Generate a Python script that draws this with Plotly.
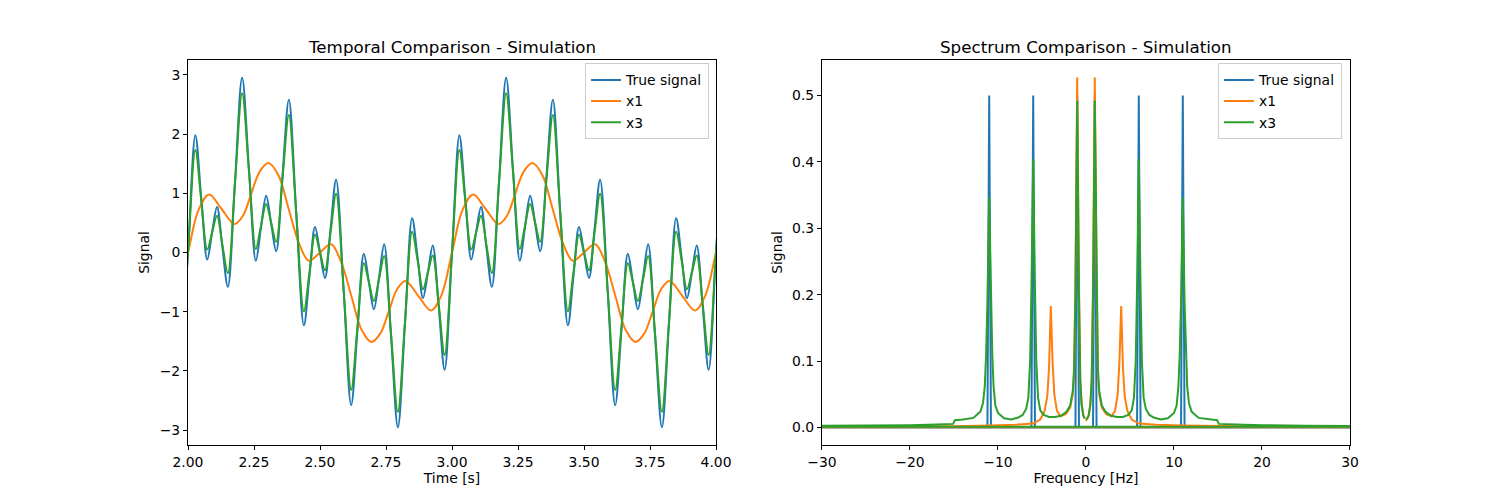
import plotly.graph_objects as go

# ---- time domain ----
t_true = [1.972, 2.000, 2.028, 2.050, 2.073, 2.091, 2.110, 2.130, 2.151, 2.178, 2.205, 2.231,
          2.257, 2.276, 2.296, 2.315, 2.334, 2.358, 2.382, 2.410, 2.439, 2.460, 2.481, 2.500,
          2.519, 2.540, 2.561, 2.590, 2.618, 2.642, 2.666, 2.685, 2.704, 2.724, 2.743, 2.769,
          2.795, 2.822, 2.849, 2.870, 2.890, 2.909, 2.927, 2.950, 2.972, 3.000,
          3.028, 3.050, 3.073, 3.091, 3.110, 3.130, 3.151, 3.178, 3.205, 3.231,
          3.257, 3.276, 3.296, 3.315, 3.334, 3.358, 3.382, 3.410, 3.439, 3.460, 3.481, 3.500,
          3.519, 3.540, 3.561, 3.590, 3.618, 3.642, 3.666, 3.685, 3.704, 3.724, 3.743, 3.769,
          3.795, 3.822, 3.849, 3.870, 3.890, 3.909, 3.927, 3.950, 3.972, 4.000, 4.028]
y_true = [-1.98, 0.00, 1.98, 0.93, -0.12, 0.33, 0.77, 0.10, -0.58, 1.19, 2.95, 1.40,
          -0.14, 0.41, 0.96, 0.49, 0.02, 1.30, 2.58, 0.67, -1.23, -0.40, 0.43, 0.00,
          -0.43, 0.40, 1.23, -0.67, -2.58, -1.30, -0.02, -0.49, -0.96, -0.41, 0.14, -1.40,
          -2.95, -1.19, 0.58, -0.10, -0.77, -0.33, 0.12, -0.93, -1.98, 0.00,
          1.98, 0.93, -0.12, 0.33, 0.77, 0.10, -0.58, 1.19, 2.95, 1.40,
          -0.14, 0.41, 0.96, 0.49, 0.02, 1.30, 2.58, 0.67, -1.23, -0.40, 0.43, 0.00,
          -0.43, 0.40, 1.23, -0.67, -2.58, -1.30, -0.02, -0.49, -0.96, -0.41, 0.14, -1.40,
          -2.95, -1.19, 0.58, -0.10, -0.77, -0.33, 0.12, -0.93, -1.98, 0.00, 1.98]

t_x1 = [1.960, 2.000, 2.040, 2.080, 2.128, 2.176, 2.208, 2.240, 2.272, 2.305, 2.343, 2.381,
        2.420, 2.458, 2.500, 2.542, 2.580, 2.619, 2.657, 2.695, 2.728, 2.760, 2.792, 2.824,
        2.872, 2.920, 2.960, 3.000,
        3.040, 3.080, 3.128, 3.176, 3.208, 3.240, 3.272, 3.305, 3.343, 3.381,
        3.420, 3.458, 3.500, 3.542, 3.580, 3.619, 3.657, 3.695, 3.728, 3.760, 3.792, 3.824,
        3.872, 3.920, 3.960, 4.000, 4.040]
y_x1 = [-0.72, 0.00, 0.72, 0.98, 0.73, 0.48, 0.62, 1.00, 1.37, 1.51, 1.30, 0.74,
        0.16, -0.14, 0.00, 0.14, -0.16, -0.74, -1.30, -1.51, -1.37, -1.00, -0.62, -0.48,
        -0.73, -0.98, -0.72, 0.00,
        0.72, 0.98, 0.73, 0.48, 0.62, 1.00, 1.37, 1.51, 1.30, 0.74,
        0.16, -0.14, 0.00, 0.14, -0.16, -0.74, -1.30, -1.51, -1.37, -1.00, -0.62, -0.48,
        -0.73, -0.98, -0.72, 0.00, 0.72]

t_x3 = t_true
y_x3 = [-1.73, 0.00, 1.73, 0.89, 0.05, 0.33, 0.62, 0.14, -0.35, 1.17, 2.69, 1.37,
        0.06, 0.44, 0.82, 0.50, 0.18, 1.25, 2.32, 0.66, -0.99, -0.34, 0.30, 0.00,
        -0.30, 0.34, 0.99, -0.66, -2.32, -1.25, -0.18, -0.50, -0.82, -0.44, -0.06, -1.37,
        -2.69, -1.17, 0.35, -0.14, -0.62, -0.33, -0.05, -0.89, -1.73, 0.00,
        1.73, 0.89, 0.05, 0.33, 0.62, 0.14, -0.35, 1.17, 2.69, 1.37,
        0.06, 0.44, 0.82, 0.50, 0.18, 1.25, 2.32, 0.66, -0.99, -0.34, 0.30, 0.00,
        -0.30, 0.34, 0.99, -0.66, -2.32, -1.25, -0.18, -0.50, -0.82, -0.44, -0.06, -1.37,
        -2.69, -1.17, 0.35, -0.14, -0.62, -0.33, -0.05, -0.89, -1.73, 0.00, 1.73]

# ---- spectrum (fft order: positive freqs, then negative) ----
f_true = [0.0, 0.8, 1.0, 1.2, 5.8, 6.0, 6.2, 10.8, 11.0, 11.2, 50.0,
          -50.0, -11.2, -11.0, -10.8, -6.2, -6.0, -5.8, -1.2, -1.0, -0.8, -0.2]
s_true = [0.0, 0.0, 0.5, 0.0, 0.0, 0.5, 0.0, 0.0, 0.5, 0.0, 0.0,
          0.0, 0.0, 0.5, 0.0, 0.0, 0.5, 0.0, 0.0, 0.5, 0.0, 0.0]

f_x1 = [0.0, 0.15, 0.3, 0.5, 0.65, 0.8, 1.0, 1.2, 1.35, 1.5, 1.8, 2.3, 2.9, 3.3, 3.6, 3.8, 4.0,
        4.2, 4.4, 4.7, 5.2, 6.0, 8.0, 11.0, 15.0, 20.0, 30.0, 50.0,
        -50.0, -30.0, -20.0, -15.0, -11.0, -8.0, -6.0, -5.2, -4.7, -4.4, -4.2, -4.0, -3.8,
        -3.6, -3.3, -2.9, -2.3, -1.8, -1.5, -1.35, -1.2, -1.0, -0.8, -0.65, -0.5, -0.3, -0.15]
s_x1 = [0.010, 0.013, 0.018, 0.035, 0.075, 0.22, 0.527, 0.22, 0.08, 0.05, 0.03, 0.02, 0.017,
        0.025, 0.05, 0.10, 0.183, 0.09, 0.047, 0.025, 0.012, 0.006, 0.004, 0.003, 0.002, 0.0015,
        0.001, 0.0005,
        0.0005, 0.001, 0.0015, 0.002, 0.003, 0.004, 0.006, 0.012, 0.025, 0.047, 0.09, 0.183,
        0.10, 0.05, 0.025, 0.017, 0.02, 0.03, 0.05, 0.08, 0.22, 0.527, 0.22, 0.075, 0.035,
        0.018, 0.013]

f_x3 = [0.0, 0.15, 0.3, 0.5, 0.65, 0.8, 1.0, 1.2, 1.35, 1.5, 1.8, 2.2, 2.8, 3.5, 4.2, 4.8,
        5.2, 5.45, 5.65, 5.8, 6.0, 6.2, 6.35, 6.55, 6.8, 7.2, 7.7, 8.5, 9.3, 10.0, 10.3,
        10.5, 10.65, 10.8, 11.0, 11.2, 11.35, 11.5, 11.7, 12.0, 12.8, 14.0, 14.9, 15.1,
        17.0, 20.0, 25.0, 30.0, 50.0,
        -50.0, -30.0, -25.0, -20.0, -17.0, -15.1, -14.9, -14.0, -12.8, -12.0, -11.7, -11.5,
        -11.35, -11.2, -11.0, -10.8, -10.65, -10.5, -10.3, -10.0, -9.3, -8.5, -7.7, -7.2,
        -6.8, -6.55, -6.35, -6.2, -6.0, -5.8, -5.65, -5.45, -5.2, -4.8, -4.2, -3.5, -2.8,
        -2.2, -1.8, -1.5, -1.35, -1.2, -1.0, -0.8, -0.65, -0.5, -0.3, -0.15]
s_x3 = [0.012, 0.014, 0.018, 0.035, 0.07, 0.20, 0.492, 0.20, 0.09, 0.055, 0.033, 0.024,
        0.018, 0.016, 0.016, 0.019, 0.026, 0.045, 0.10, 0.21, 0.404, 0.21, 0.10, 0.045,
        0.028, 0.019, 0.015, 0.012, 0.014, 0.022, 0.033, 0.062, 0.11, 0.19, 0.346, 0.19,
        0.11, 0.062, 0.037, 0.024, 0.0145, 0.012, 0.011, 0.0055, 0.0045, 0.0035, 0.0025,
        0.002, 0.001,
        0.001, 0.002, 0.0025, 0.0035, 0.0045, 0.0055, 0.011, 0.012, 0.0145, 0.024, 0.037,
        0.062, 0.11, 0.19, 0.346, 0.19, 0.11, 0.062, 0.033, 0.022, 0.014, 0.012, 0.015,
        0.019, 0.028, 0.045, 0.10, 0.21, 0.404, 0.21, 0.10, 0.045, 0.026, 0.019, 0.016,
        0.016, 0.018, 0.024, 0.033, 0.055, 0.09, 0.20, 0.492, 0.20, 0.07, 0.035, 0.018, 0.014]

names = ["True signal", "x1", "x3"]
colors = ["#1f77b4", "#ff7f0e", "#2ca02c"]
FONT = "DejaVu Sans"

fig = go.Figure()
time_data = [(t_true, y_true), (t_x1, y_x1), (t_x3, y_x3)]
for (t, y), name, c in zip(time_data, names, colors):
    fig.add_trace(go.Scatter(x=t, y=y, mode="lines", name=name,
                             line=dict(color=c, width=2, shape="spline", smoothing=1.0),
                             xaxis="x", yaxis="y", legend="legend"))

spec_data = [(f_true, s_true), (f_x1, s_x1), (f_x3, s_x3)]
for (f, s), name, c in zip(spec_data, names, colors):
    fig.add_trace(go.Scatter(x=f, y=s, mode="lines", name=name,
                             line=dict(color=c, width=2),
                             xaxis="x2", yaxis="y2", legend="legend2"))

axis_style = dict(showline=True, linecolor="black", linewidth=1, mirror=True,
                  ticks="outside", ticklen=4, tickcolor="black", showgrid=False,
                  zeroline=False, tickfont=dict(family=FONT, size=13.9, color="black"))

legend_style = dict(bgcolor="rgba(255,255,255,0.8)", bordercolor="#cccccc", borderwidth=1,
                    font=dict(family=FONT, size=13.9, color="black"),
                    xanchor="right", yanchor="top", itemwidth=30)

# page body has an 8px margin, so the figure is 8px smaller and shifted
fig.update_layout(
    width=1492, height=492,
    margin=dict(l=180, r=150, t=52, b=55),
    paper_bgcolor="white", plot_bgcolor="white",
    font=dict(family=FONT, color="black"),
    xaxis=dict(domain=[0, 0.4544], range=[2, 4], dtick=0.25, tickformat=".2f",
               title=dict(text="Time [s]", standoff=3, font=dict(size=13.9)), **axis_style),
    yaxis=dict(range=[-3.25, 3.25], dtick=1, anchor="x",
               title=dict(text="Signal", standoff=6, font=dict(size=13.9)), **axis_style),
    xaxis2=dict(domain=[0.5456, 1], range=[-30, 30], dtick=10, anchor="y2",
                title=dict(text="Frequency [Hz]", standoff=3, font=dict(size=13.9)), **axis_style),
    yaxis2=dict(range=[-0.0263, 0.5533], dtick=0.1, tickformat=".1f", anchor="x2",
                title=dict(text="Signal", standoff=6, font=dict(size=13.9)), **axis_style),
    legend=dict(x=0.4484, y=0.991, **legend_style),
    legend2=dict(x=0.9931, y=0.991, **legend_style),
    annotations=[
        dict(text="Temporal Comparison - Simulation", xref="x domain", yref="y domain",
             x=0.5, y=1, yanchor="bottom", yshift=1, showarrow=False,
             font=dict(family=FONT, size=16.7, color="black")),
        dict(text="Spectrum Comparison - Simulation", xref="x2 domain", yref="y2 domain",
             x=0.5, y=1, yanchor="bottom", yshift=1, showarrow=False,
             font=dict(family=FONT, size=16.7, color="black")),
    ],
)

fig.write_html("out.html")
